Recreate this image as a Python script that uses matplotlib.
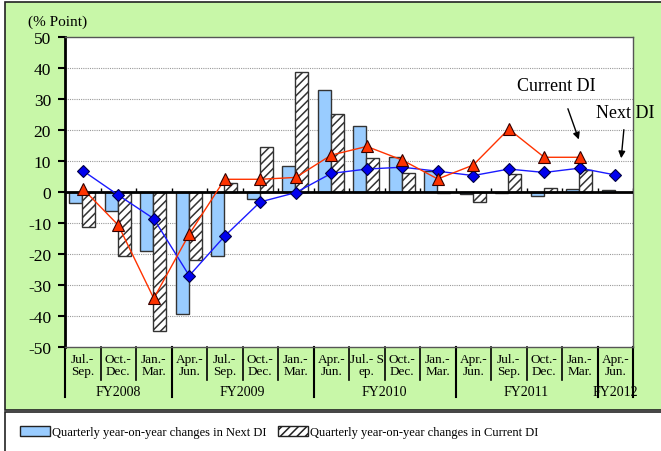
import matplotlib.pyplot as plt
import numpy as np
from matplotlib.patches import Rectangle, Patch

plt.rcParams['font.family'] = ['Liberation Serif', 'DejaVu Serif']
plt.rcParams['hatch.linewidth'] = 1.1
plt.rcParams['axes.unicode_minus'] = False

# data
cats = ["Jul.-\nSep.", "Oct.-\nDec.", "Jan.-\nMar.",
        "Apr.-\nJun.", "Jul.-\nSep.", "Oct.-\nDec.", "Jan.-\nMar.",
        "Apr.-\nJun.", "Jul.- S\nep.", "Oct.-\nDec.", "Jan.-\nMar.",
        "Apr.-\nJun.", "Jul.-\nSep.", "Oct.-\nDec.", "Jan.-\nMar.",
        "Apr.-\nJun."]
years = ["FY2008", "FY2009", "FY2010", "FY2011", "FY2012"]
year_len = [3, 4, 4, 4, 1]

next_bar = [-3.4, -6.0, -19.0, -39.4, -20.8, -2.4, 8.5, 33.0, 21.4, 11.2, 6.8, -0.5, -0.2, -1.4, 0.9, 0.5]
current_bar = [-11.4, -20.6, -44.7, -21.9, 3.0, 14.6, 38.8, 25.2, 10.9, 6.1, -0.3, -3.3, 5.8, 1.2, 7.1, np.nan]
next_di = [6.9, -1.0, -8.6, -27.0, -14.2, -3.2, -0.2, 6.0, 7.4, 8.0, 6.7, 5.3, 7.4, 6.3, 7.7, 5.5]
current_di = [1.1, -10.7, -34.3, -13.6, 4.1, 4.1, 4.7, 11.9, 14.7, 10.3, 4.2, 8.7, 20.3, 11.2, 11.2, np.nan]

W, H = 661, 452
fig = plt.figure(figsize=(W / 100, H / 100), dpi=100)
fig.patch.set_facecolor('white')

green = '#c8f7a8'
fig.patches.append(Rectangle((5 / W, 1 - 411 / H), 1, 408 / H, transform=fig.transFigure,
                             facecolor=green, edgecolor='#222222', lw=1.2, zorder=-5))
fig.patches.append(Rectangle((5 / W, -0.01), 1, (H - 413) / H + 0.01, transform=fig.transFigure,
                             facecolor='white', edgecolor='#222222', lw=1.2, zorder=-5))

ax = fig.add_axes([65 / W, 1 - 348 / H, 568 / W, 310 / H])
ax.set_facecolor('white')
x = np.arange(len(cats))

ax.bar(x - 0.195, next_bar, 0.365, color='#99ccff', edgecolor='#333333', lw=1, zorder=2)
ax.bar(x + 0.17, current_bar, 0.365, color='white', edgecolor='#333333', lw=1,
       hatch='////', zorder=2)

ax.plot(x, next_di, color='#1a1aff', lw=1, marker='D', ms=6,
        mfc='#0000ee', mec='#000044', mew=0.8, zorder=4)
ax.plot(x, current_di, color='#ff3300', lw=1, marker='^', ms=8,
        mfc='#ff3300', mec='#330000', mew=0.8, zorder=4)

ax.set_xlim(-0.5, len(cats) - 0.5)
ax.set_ylim(-50, 50)
ax.set_yticks(np.arange(-50, 51, 10))
ax.tick_params(axis='y', direction='out', length=5, width=1.5, labelsize=12.5, pad=5)
ax.set_xticks([])
for y in range(-40, 50, 10):
    if y != 0:
        ax.axhline(y, color='#999999', lw=0.8, ls=(0, (1, 1)), zorder=1)
ax.axhline(0, color='black', lw=2, zorder=3)
ax.vlines(np.arange(len(cats)) + 0.5, 0, 1.2, color='black', lw=1, zorder=3)

ax.spines['left'].set_linewidth(2)
for s in ['top', 'right', 'bottom']:
    ax.spines[s].set_color('#555555')
    ax.spines[s].set_linewidth(1)

# category axis below the plot
tr = ax.get_xaxis_transform()
for i, c in enumerate(cats):
    ax.text(i, -0.058, c, transform=tr, ha='center', va='center', fontsize=9.5,
            linespacing=1.1)
for b in np.arange(1, len(cats)):
    ax.plot([b - 0.5, b - 0.5], [0, -0.107], transform=tr, color='black', lw=1.2, clip_on=False)
edges = np.concatenate([[0], np.cumsum(year_len)])
for e in edges:
    ax.plot([e - 0.5, e - 0.5], [0, -0.162], transform=tr, color='black', lw=1.5, clip_on=False)
for k, yr in enumerate(years):
    mid = (edges[k] + edges[k + 1]) / 2 - 0.5
    ax.text(mid, -0.142, yr, transform=tr, ha='center', va='center', fontsize=10)

fig.text(28 / W, 1 - 22 / H, '(% Point)', fontsize=11, va='center', ha='left')

ax.annotate('', xy=(14.0, 16.1), xytext=(13.64, 27.7),
            arrowprops=dict(arrowstyle='-|>', color='black', lw=1, mutation_scale=10),
            annotation_clip=False)
ax.text(13.35, 34.5, 'Current DI', ha='center', va='center', fontsize=13)
ax.annotate('', xy=(15.16, 10.0), xytext=(15.25, 21.0),
            arrowprops=dict(arrowstyle='-|>', color='black', lw=1, mutation_scale=10),
            annotation_clip=False)
ax.text(15.27, 25.8, 'Next DI', ha='center', va='center', fontsize=13, clip_on=False)

handles = [Patch(facecolor='#99ccff', edgecolor='#222222', lw=1),
           Patch(facecolor='white', edgecolor='#222222', lw=1, hatch='////')]
labels = ['Quarterly year-on-year changes in Next DI',
          'Quarterly year-on-year changes in Current DI']
fig.legend(handles, labels, ncol=2, loc='center left', bbox_to_anchor=(20 / W, 1 - 433 / H),
           frameon=False, fontsize=9, handlelength=2.4, handleheight=0.9,
           handletextpad=0.15, columnspacing=0.9, borderpad=0, borderaxespad=0)

fig.savefig('out.png', dpi=100)
